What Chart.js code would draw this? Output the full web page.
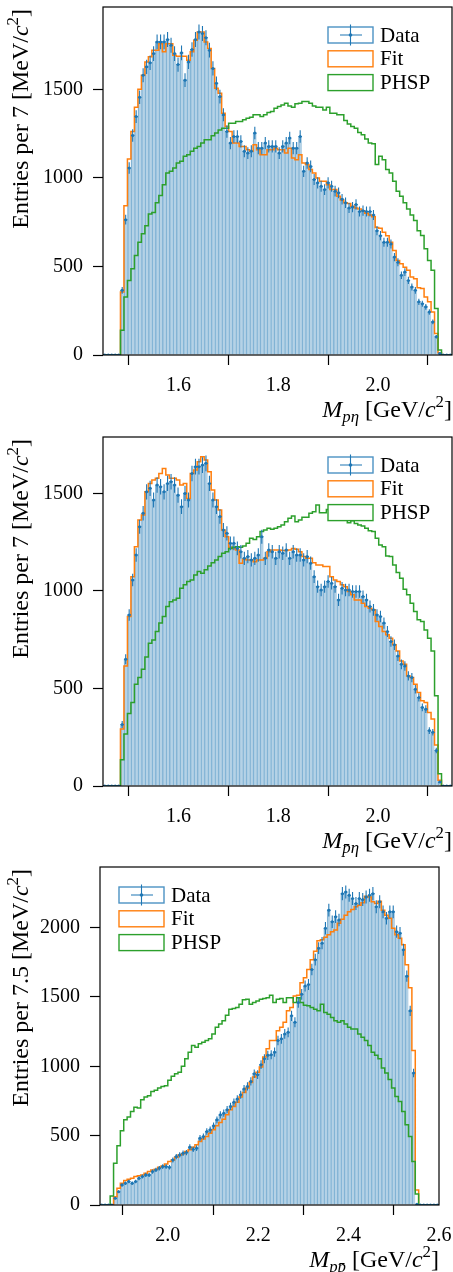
<!DOCTYPE html>
<html lang="en">
<head>
<meta charset="UTF-8">
<title>Invariant mass projections</title>
<script src="https://cdn.jsdelivr.net/npm/chart.js@4"></script>
<style>
  body { margin: 0; background: #fff; }
  canvas { position: absolute; left: 0; }
</style>
</head>
<body>
<canvas id="c1" width="453" height="430" style="top:0px"></canvas>
<canvas id="c2" width="453" height="430" style="top:430px"></canvas>
<canvas id="c3" width="453" height="412" style="top:860px"></canvas>
<script>
// binning: 100 bins, 7 MeV for p eta / pbar eta, 7.5 MeV for p pbar
const NBINS = 100;
const rangeEta = [1.4485, 2.1485];
const rangePPbar = [1.85, 2.60];

// tick labels
const xTicksEta = [1.6, 1.8, 2.0];
const xTicksPPbar = [2.0, 2.2, 2.4, 2.6];
const yTicksPEta = [0, 500, 1000, 1500];
const yTicksPbarEta = [0, 500, 1000, 1500];
const yTicksPPbar = [0, 500, 1000, 1500, 2000];
const legendLabels = ['Data', 'Fit', 'PHSP'];

// M(p eta)
const pEtaData = [0,0,0,0,0, 365,764,1056,1240,1346, 1455,1580,1627,1650,1702, 1768,1768,1768,1781,1749,
  1702,1640,1706,1552,1655, 1725,1781,1824,1815,1792, 1721,1618,1534,1459,1356, 1262,1197,1234,1234,1206,
  1150,1140,1150,1253,1168, 1168,1197,1178,1178,1178, 1140,1178,1197,1225,1168, 1168,1234,1037,1084,1065,
  991,972,953,934,972, 953,925,916,880,860, 830,835,850,810,815, 810,810,790,702,674,
  637,637,627,553,524, 450,468,421,384,365, 300,290,272,243,187, 103,9,0,0,0];
const pEtaFit = [0,0,0,0,0, 356,843,1107,1262,1399, 1500,1580,1655,1684,1721, 1721,1758,1712,1758,1758,
  1693,1687,1687,1687,1665, 1712,1777,1824,1824,1768, 1730,1618,1506,1478,1365, 1290,1262,1197,1197,1178,
  1178,1159,1150,1187,1159, 1131,1131,1159,1159,1168, 1159,1159,1140,1168,1112, 1103,1131,1084,1075,1047,
  1028,1000,981,981,962, 934,934,897,875,860, 855,840,830,825,815, 800,790,780,720,715,
  693,674,637,590,534, 515,496,478,440,431, 380,375,328,300,243, 122,12,0,0,0];
const pEtaPhsp = [0,0,0,0,0, 140,328,421,487,562, 637,684,730,796,805, 860,900,962,1028,1037,
  1056,1084,1094,1122,1131, 1150,1168,1178,1197,1215, 1215,1238,1253,1271,1281, 1281,1309,1309,1318,1318,
  1328,1337,1343,1356,1356, 1346,1356,1369,1375,1393, 1403,1412,1421,1406,1399, 1418,1421,1431,1431,1421,
  1406,1399,1399,1384,1399, 1365,1365,1356,1356,1324, 1305,1290,1281,1256,1243, 1219,1197,1193,1075,1122,
  1103,1047,1028,981,925, 897,860,824,790,759, 702,675,600,534,478, 262,28,0,0,0];

// M(pbar eta)
const pbarEtaData = [0,0,0,0,0, 315,650,877,1056,1184, 1329,1398,1508,1526,1466, 1543,1534,1508,1551,1560,
  1543,1491,1432,1500,1466, 1602,1637,1637,1645,1654, 1551,1466,1432,1381,1312, 1295,1244,1244,1218,1201,
  1167,1176,1159,1167,1184, 1278,1167,1210,1201,1167, 1201,1193,1210,1167,1201, 1184,1184,1159,1176,1142,
  1073,1022,1005,1022,1048, 1039,1022,954,1014,1005, 1005,997,997,997,971, 954,920,903,877,869,
  835,792,741,724,666, 624,615,564,556,496, 454,403,394,284,275, 182,20,0,0,0];
const pbarEtaFit = [0,0,0,0,0, 292,615,869,1073,1227, 1363,1389,1508,1551,1568, 1577,1602,1628,1594,1577,
  1577,1568,1543,1551,1474, 1602,1620,1662,1688,1671, 1611,1517,1466,1415,1312, 1278,1224,1218,1210,1142,
  1162,1159,1159,1150,1159, 1159,1167,1201,1210,1210, 1210,1207,1207,1210,1218, 1213,1201,1176,1167,1167,
  1145,1133,1133,1125,1125, 1073,1056,1048,1031,1022, 997,980,954,954,937, 920,911,903,843,817,
  792,775,758,724,692, 641,624,564,556,522, 479,437,428,377,343, 210,30,0,0,0];
const pbarEtaPhsp = [0,0,0,0,0, 134,267,372,428,522, 556,598,661,732,749, 792,835,869,920,945,
  954,962,1014,1031,1048, 1056,1082,1099,1090,1108, 1128,1145,1159,1176,1193, 1201,1218,1224,1227,1224,
  1230,1244,1270,1264,1278, 1304,1312,1321,1316,1321, 1329,1338,1355,1372,1384, 1355,1363,1377,1377,1398,
  1406,1440,1401,1401,1418, 1406,1398,1384,1372,1363, 1350,1360,1346,1338,1333, 1321,1309,1304,1270,1235,
  1227,1179,1176,1133,1094, 1065,1009,980,937,894, 852,843,800,758,692, 462,63,0,0,0];

// M(p pbar)
const pPbarData = [0,0,0,0,48, 96,145,157,169,157, 169,193,205,217,217, 241,253,265,277,277,
  272,325,349,361,373, 378,417,402,410,482, 494,530,542,571,614, 650,662,687,711,740,
  764,795,836,855,891, 947,940,1012,1055,1079, 1083,1102,1186,1198,1233, 1245,1364,1317,1460,1519,
  1579,1590,1698,1769,1852, 1888,1995,2126,2043,2079, 2055,2245,2257,2233,2210, 2174,2210,2202,2221,2233,
  2245,2150,2186,2114,2067, 2114,2114,1971,1960,1840, 1650,1400,952,5,0, 0,0,0,0,0];
const pPbarFit = [0,0,0,0,60, 120,157,176,186,193, 205,210,217,229,241, 253,258,272,282,296,
  313,325,344,361,369, 386,398,417,434,458, 475,494,518,542,571, 595,619,650,687,711,
  740,778,812,843,884, 923,957,995,1067,1126, 1186,1186,1257,1281,1317, 1400,1424,1507,1512,1602,
  1638,1698,1769,1829,1905, 1912,1931,1948,1971,1983, 2031,2060,2090,2114,2131, 2150,2162,2179,2226,2221,
  2186,2174,2190,2126,2090, 2067,1995,1948,1924,1876, 1733,1567,1114,108,0, 0,0,0,0,0];
const pPbarPhsp = [0,0,0,65,301, 427,535,615,634,675, 704,699,759,778,788, 819,827,843,855,860,
  899,928,947,957,1000, 1055,1102,1150,1138,1162, 1174,1186,1198,1233,1281, 1305,1329,1369,1412,1417,
  1424,1448,1479,1483,1448, 1460,1471,1483,1488,1495, 1512,1460,1483,1488,1460, 1495,1495,1460,1495,1460,
  1440,1436,1424,1412,1400, 1448,1388,1376,1352,1329, 1317,1329,1305,1281,1269, 1269,1233,1210,1186,1150,
  1102,1079,1055,988,952, 904,843,783,747,675, 578,494,313,80,0, 0,0,0,0,0];

const BLUE = '#1f77b4', ORANGE = '#ff7f0e', GREEN = '#2ca02c';
const FONT = '"Liberation Serif", "Times New Roman", serif';

function binEdges(range) {
  const w = (range[1] - range[0]) / NBINS;
  return Array.from({ length: NBINS + 1 }, (_, i) => range[0] + i * w);
}
function centerPoints(range, vals) {
  const e = binEdges(range);
  return vals.map((v, i) => ({ x: (e[i] + e[i + 1]) / 2, y: v }));
}
// one point per left bin edge plus the closing right edge
function stepPoints(range, vals) {
  const e = binEdges(range);
  const pts = vals.map((v, i) => ({ x: e[i], y: v }));
  pts.push({ x: e[NBINS], y: vals[NBINS - 1] });
  return pts;
}

// text with italic / sub / superscript pieces
function drawRich(ctx, segs, x, y, align, size) {
  const parts = segs.map(([t, s]) => {
    const small = s === 'sub' || s === 'subi' || s === 'sup';
    const italic = s === 'i' || s === 'subi';
    const fs = small ? size * 0.7 : size;
    const font = (italic ? 'italic ' : '') + fs + 'px ' + FONT;
    ctx.font = font;
    const dy = (s === 'sub' || s === 'subi') ? size * 0.22 : s === 'sup' ? -size * 0.4 : 0;
    return { t, font, dy, w: ctx.measureText(t).width };
  });
  const total = parts.reduce((a, p) => a + p.w, 0);
  let cx = align === 'right' ? x - total : x;
  ctx.textAlign = 'left';
  ctx.textBaseline = 'alphabetic';
  ctx.fillStyle = '#000';
  for (const p of parts) {
    ctx.font = p.font;
    ctx.fillText(p.t, cx, y + p.dy);
    cx += p.w;
  }
}

const decorPlugin = {
  id: 'decor',
  beforeDatasetDraw(chart, args) {
    const ds = chart.data.datasets[args.index];
    if (!ds.errorBars) return;
    const { ctx, chartArea: a, scales: { x, y } } = chart;
    const hw = ds.halfWidth;
    ctx.save();
    ctx.beginPath();
    ctx.rect(a.left, a.top, a.right - a.left, a.bottom - a.top);
    ctx.clip();
    ctx.strokeStyle = BLUE;
    ctx.lineWidth = 1.1;
    ctx.beginPath();
    ds.data.forEach(p => {
      const py = y.getPixelForValue(p.y);
      ctx.moveTo(x.getPixelForValue(p.x - hw), py);
      ctx.lineTo(x.getPixelForValue(p.x + hw), py);
      const e = Math.sqrt(p.y);
      if (e > 0) {
        const cx = x.getPixelForValue(p.x);
        ctx.moveTo(cx, y.getPixelForValue(p.y - e));
        ctx.lineTo(cx, y.getPixelForValue(p.y + e));
      }
    });
    ctx.stroke();
    ctx.restore();
  },
  afterDatasetsDraw(chart, args, opts) {
    const { ctx, chartArea: a } = chart;
    ctx.save();
    // frame
    ctx.strokeStyle = '#000';
    ctx.lineWidth = 1.2;
    ctx.strokeRect(a.left, a.top, a.right - a.left, a.bottom - a.top);

    // legend
    const x0 = opts.legendLeft ? a.left + 19 : a.right - 124;
    const colors = [BLUE, ORANGE, GREEN];
    legendLabels.forEach((lab, i) => {
      const top = a.top + 20 + i * 23.8;
      ctx.fillStyle = '#fff';
      ctx.fillRect(x0, top, 45, 16);
      ctx.strokeStyle = colors[i];
      ctx.globalAlpha = i === 0 ? 0.8 : 1;
      ctx.lineWidth = 1.4;
      ctx.strokeRect(x0, top, 45, 16);
      ctx.globalAlpha = 1;
      if (i === 0) {
        ctx.strokeStyle = BLUE;
        ctx.lineWidth = 1.1;
        ctx.beginPath();
        ctx.moveTo(x0 + 12, top + 8); ctx.lineTo(x0 + 34, top + 8);
        ctx.moveTo(x0 + 22.5, top - 2.5); ctx.lineTo(x0 + 22.5, top + 18.5);
        ctx.stroke();
        ctx.fillStyle = BLUE;
        ctx.beginPath(); ctx.arc(x0 + 22.5, top + 8, 1.8, 0, Math.PI * 2); ctx.fill();
      }
      ctx.fillStyle = '#000';
      ctx.font = '21px ' + FONT;
      ctx.textAlign = 'left';
      ctx.textBaseline = 'middle';
      ctx.fillText(lab, x0 + 52, top + 9);
    });

    // axis titles
    drawRich(ctx, opts.xTitle, a.right, a.bottom + 62, 'right', 24);
    ctx.translate(28, a.top);
    ctx.rotate(-Math.PI / 2);
    drawRich(ctx, opts.yTitle, -2, 0, 'right', 24);
    ctx.restore();
  }
};

function noMargins(s) {
  s.paddingTop = 0; s.paddingBottom = 0; s.paddingLeft = 0; s.paddingRight = 0;
}

function makePanel(id, cfg) {
  const hw = (cfg.range[1] - cfg.range[0]) / NBINS / 2;
  const tickFont = { family: FONT, size: 20 };
  return new Chart(document.getElementById(id), {
    type: 'bar',
    data: {
      datasets: [
        {
          type: 'bar', order: 3,
          data: centerPoints(cfg.range, cfg.data),
          backgroundColor: 'rgba(31,119,180,0.33)',
          borderColor: 'rgba(31,119,180,0.45)',
          borderWidth: { left: 0.7, right: 0, top: 0, bottom: 0 },
          barPercentage: 1, categoryPercentage: 1
        },
        {
          type: 'line', order: 2,
          data: stepPoints(cfg.range, cfg.fit),
          stepped: 'before', borderColor: ORANGE, borderWidth: 1.5,
          pointRadius: 0, fill: false
        },
        {
          type: 'line', order: 1,
          data: stepPoints(cfg.range, cfg.phsp),
          stepped: 'before', borderColor: GREEN, borderWidth: 1.5,
          pointRadius: 0, fill: false
        },
        {
          type: 'line', order: 0, showLine: false,
          data: centerPoints(cfg.range, cfg.data),
          errorBars: true, halfWidth: hw,
          pointRadius: 1.5, pointBackgroundColor: BLUE, pointBorderWidth: 0
        }
      ]
    },
    options: {
      responsive: false,
      animation: false,
      events: [],
      layout: { padding: { left: 0, top: 7, right: cfg.padRight, bottom: 0 }, autoPadding: false },
      plugins: {
        legend: { display: false },
        tooltip: { enabled: false },
        decor: { legendLeft: cfg.legendLeft, xTitle: cfg.xTitle, yTitle: cfg.yTitle }
      },
      scales: {
        x: {
          type: 'linear', min: cfg.range[0], max: cfg.range[1], offset: false,
          afterBuildTicks: s => { s.ticks = cfg.xTicks.map(v => ({ value: v })); },
          afterFit: s => { s.height = cfg.xHeight; noMargins(s); },
          grid: { drawOnChartArea: false, tickLength: 10, tickColor: '#000', tickWidth: 1.2 },
          border: { display: false },
          ticks: { font: tickFont, color: '#000', padding: 9, maxRotation: 0, autoSkip: false,
                   callback: v => v.toFixed(1) }
        },
        y: {
          min: 0, max: cfg.yMax,
          afterBuildTicks: s => { s.ticks = cfg.yTicks.map(v => ({ value: v })); },
          afterFit: s => { s.width = cfg.yWidth; noMargins(s); },
          grid: { drawOnChartArea: false, tickLength: 10, tickColor: '#000', tickWidth: 1.2 },
          border: { display: false },
          ticks: { font: tickFont, color: '#000', padding: 10, callback: v => String(v) }
        }
      }
    },
    plugins: [decorPlugin]
  });
}

makePanel('c1', {
  range: rangeEta, data: pEtaData, fit: pEtaFit, phsp: pEtaPhsp,
  xTicks: xTicksEta, yTicks: yTicksPEta, yMax: 1965,
  xHeight: 75, yWidth: 103, padRight: 1, legendLeft: false,
  xTitle: [['M', 'i'], ['p\u03b7', 'subi'], [' [GeV/', ''], ['c', 'i'], ['2', 'sup'], [']', '']],
  yTitle: [['Entries per 7 [MeV/', ''], ['c', 'i'], ['2', 'sup'], [']', '']]
});
makePanel('c2', {
  range: rangeEta, data: pbarEtaData, fit: pbarEtaFit, phsp: pbarEtaPhsp,
  xTicks: xTicksEta, yTicks: yTicksPbarEta, yMax: 1789,
  xHeight: 74, yWidth: 103, padRight: 1, legendLeft: false,
  xTitle: [['M', 'i'], ['p\u0304\u03b7', 'subi'], [' [GeV/', ''], ['c', 'i'], ['2', 'sup'], [']', '']],
  yTitle: [['Entries per 7 [MeV/', ''], ['c', 'i'], ['2', 'sup'], [']', '']]
});
makePanel('c3', {
  range: rangePPbar, data: pPbarData, fit: pPbarFit, phsp: pPbarPhsp,
  xTicks: xTicksPPbar, yTicks: yTicksPPbar, yMax: 2437,
  xHeight: 67, yWidth: 100, padRight: 14, legendLeft: true,
  xTitle: [['M', 'i'], ['pp\u0304', 'subi'], [' [GeV/', ''], ['c', 'i'], ['2', 'sup'], [']', '']],
  yTitle: [['Entries per 7.5 [MeV/', ''], ['c', 'i'], ['2', 'sup'], [']', '']]
});
</script>
</body>
</html>
